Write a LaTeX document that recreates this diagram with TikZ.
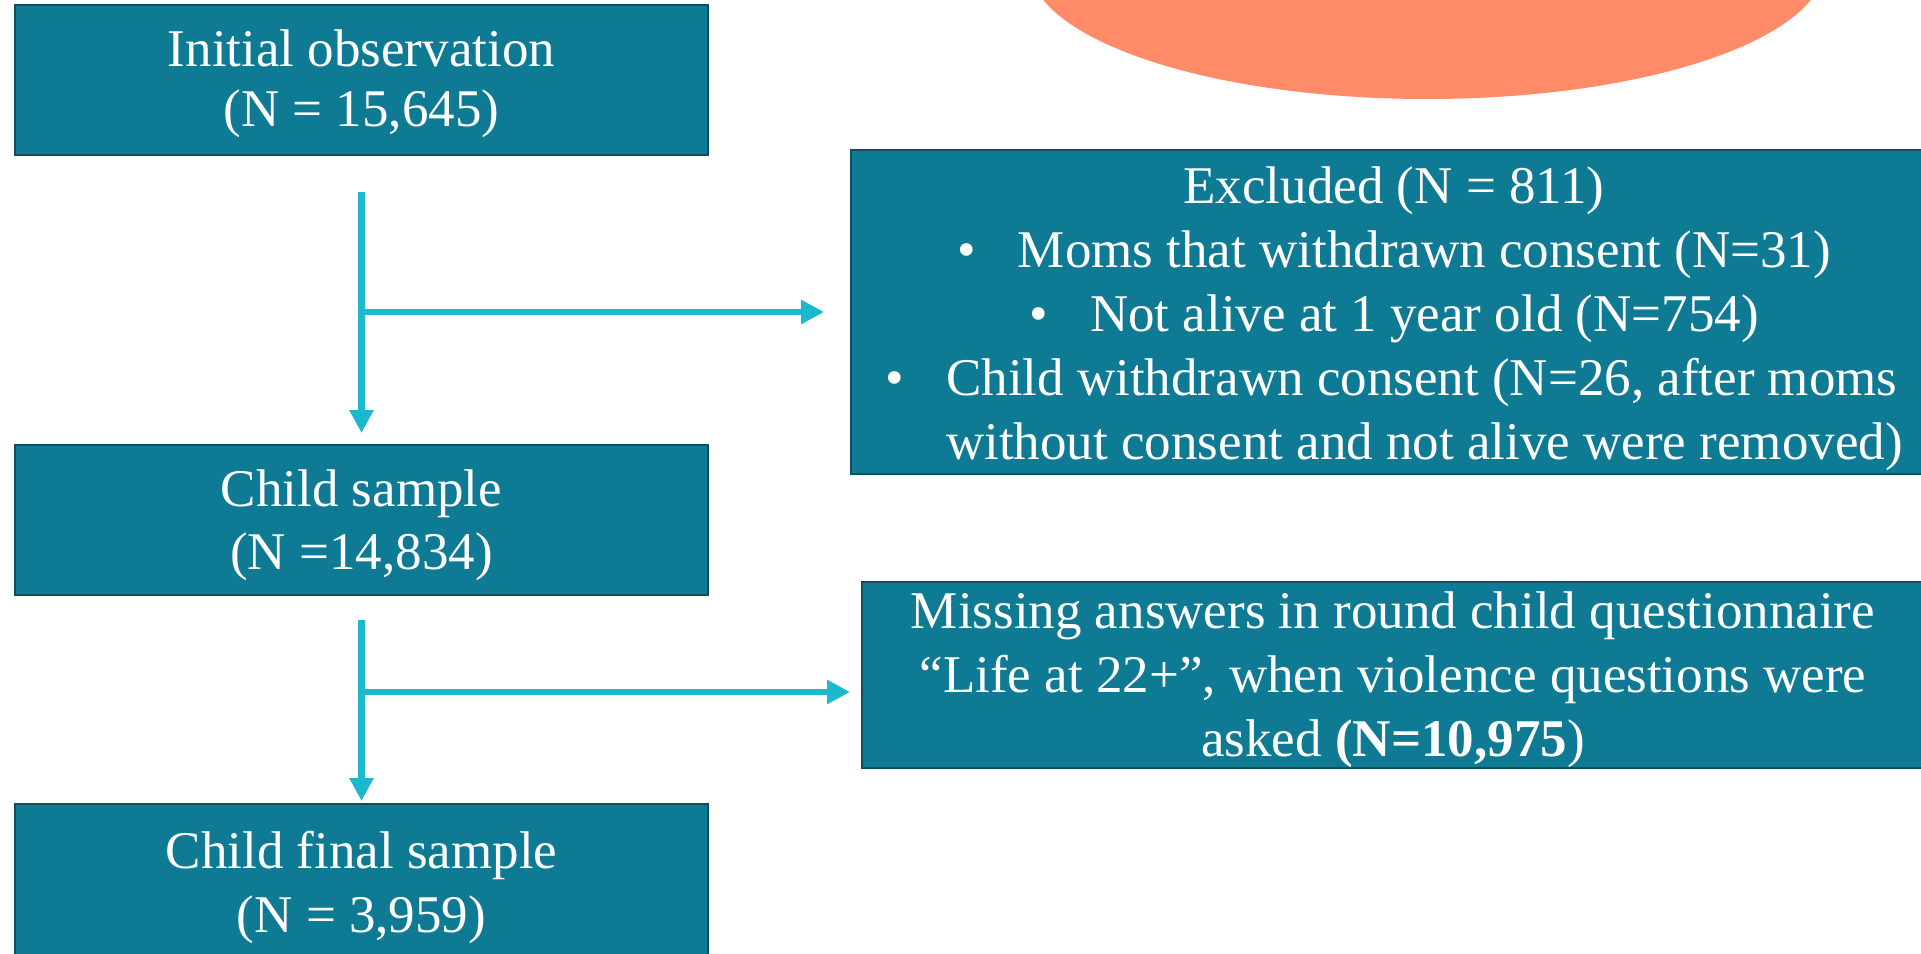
\documentclass[tikz,border=0pt]{standalone}
\usepackage{fontspec}
\setmainfont{Liberation Serif}
\usetikzlibrary{shapes,arrows.meta,fit,positioning}
\definecolor{boxfill}{RGB}{15,122,147}
\definecolor{boxline}{RGB}{12,80,94}
\definecolor{flow}{RGB}{27,184,206}
\definecolor{coral}{RGB}{255,139,104}
\def\Gap#1{\rule{0pt}{#1}}% pushes the first line down inside a box
\def\Bul{\textbullet\hspace{0.8em}}

\begin{document}
\begin{tikzpicture}[% List of styles applied to all, to override specify on a case-by-case
      x=0.5pt, y=-0.5pt, % one unit is one pixel of the slide, y going down
      every node/.style={
        align=center,     % use this so that the "\\" for line break works
        text=white,
        font=\fontsize{26.5pt}{32pt}\selectfont
      },
      box/.style={rectangle,draw=boxline,line width=1pt,fill=boxfill,inner sep=0pt},
      every edge/.style={draw=flow,line width=3.25pt},
      >={Triangle[length=11.5pt,width=11.5pt]}
    ]
    \useasboundingbox (0,0) rectangle (1921,953);
    \fill[coral] (1427,-36) ellipse [x radius=199pt,y radius=67.5pt];
    \node[box,minimum width=346.5pt,minimum height=75pt,font=\fontsize{26.5pt}{30pt}\selectfont](init) at (361.5,80){\Gap{22.4pt}Initial observation\\(N = 15,645)};
    \node[box,minimum width=346.5pt,minimum height=75pt,font=\fontsize{26.5pt}{31.3pt}\selectfont](child)[below=144pt of init]{\Gap{23.7pt}Child sample\\(N =14,834)};
    \node[box,minimum width=346.5pt,minimum height=76pt](final)[below=103.5pt of child]{\Gap{26pt}Child final sample\\(N = 3,959)};
    \node[box,minimum width=543pt,minimum height=162pt](excl) at (1394,312){\Gap{25pt}Excluded (N = 811)\\
      \Bul Moms that withdrawn consent (N=31)\\
      \Bul Not alive at 1 year old (N=754)\\
      \Bul\vtop{\hbox{Child withdrawn consent (N=26, after moms}\hbox{without consent and not alive were removed)}}};
    \node[box,minimum width=531pt,minimum height=92pt](miss) at (1393,675){\Gap{23pt}Missing answers in round child questionnaire\\
      “Life at 22+”, when violence questions were\\
      asked \textbf{(N=10,975})};
    \coordinate (b1) at (361.5,312);
    \coordinate (b2) at (361.5,692);
    \path[->]
    (init)edge [shorten <=18pt,shorten >=5.5pt] (child)
    (b1)edge [shorten >=13pt] (excl)
    (child)edge [shorten <=12pt,shorten >=1pt] (final)
    (b2)edge [shorten >=5.5pt] (b2 -| miss.west)
    ;
  \end{tikzpicture}
\end{document}
